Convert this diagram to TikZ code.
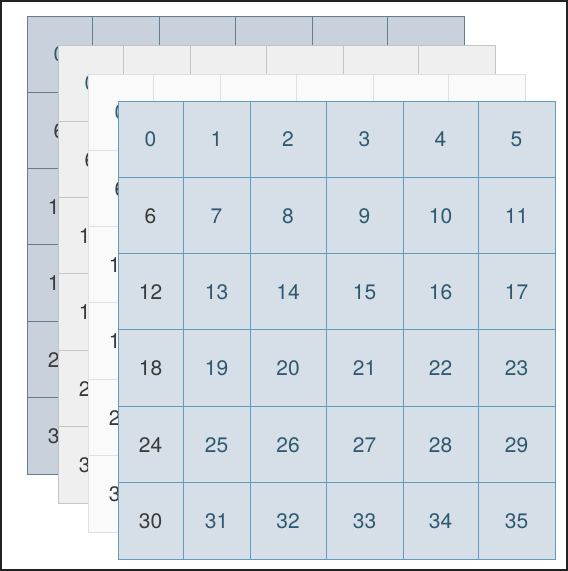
\documentclass[tikz,border=0pt]{standalone}
\usepackage{fontspec}
\setmainfont{TeX Gyre Heros}
\definecolor{framedark}{HTML}{222222}
\definecolor{sheetA}{HTML}{C9D2DC}
\definecolor{lineA}{HTML}{647C8E}
\definecolor{sheetB}{HTML}{EFEFEF}
\definecolor{lineB}{HTML}{C4C4C4}
\definecolor{sheetC}{HTML}{FAFAFA}
\definecolor{lineC}{HTML}{E0E0E0}
\definecolor{sheetD}{HTML}{D6DFE7}
\definecolor{lineD}{HTML}{5F9DBA}
\definecolor{numblue}{HTML}{2E5A71}
\definecolor{numgray}{HTML}{3A3A3A}
\begin{document}
\begin{tikzpicture}[x=1pt, y=-1pt, num/.style={inner sep=0pt, font=\fontsize{21}{21}\selectfont}, gridline/.style={line width=1pt}]
  \useasboundingbox (0,0) rectangle (568,571);
  \fill[framedark] (0,0) rectangle (568,571);
  \fill[white] (2,2) rectangle (566,569);
  \foreach \lx/\ly/\lf/\ld [count=\l] in {27/16/sheetA/lineA, 58/45/sheetB/lineB, 88/74/sheetC/lineC, 118/101/sheetD/lineD} {
    \fill[\lf] (\lx,\ly) rectangle ++(437,458);
    \foreach \c/\cx/\cw in {0/0/65, 1/65/67, 2/132/76, 3/208/77, 4/285/75, 5/360/77} {
      \foreach \r in {0,...,5} {
        \pgfmathtruncatemacro\n{6*\r+\c}
        \pgfmathtruncatemacro\shown{(\l==4 || \c==0 || \r==0) ? 1 : 0}
        \pgfmathsetmacro\tc{(\c==0 && \r>0) ? "numgray" : "numblue"}
        \ifnum\shown=1
          \node[num, text=\tc] (n\l-\n) at (\lx+\cx+\cw/2, \ly+76.33*\r+38.5) {\n};
        \fi
      }
    }
    \foreach \cx in {65, 132, 208, 285, 360}
      \draw[gridline, draw=\ld] (\lx+\cx,\ly) -- ++(0,458);
    \foreach \r in {1,...,5}
      \draw[gridline, draw=\ld] (\lx,\ly+76.33*\r) -- ++(437,0);
    \draw[gridline, draw=\ld] (\lx,\ly) rectangle ++(437,458);
  }
\end{tikzpicture}
\end{document}
